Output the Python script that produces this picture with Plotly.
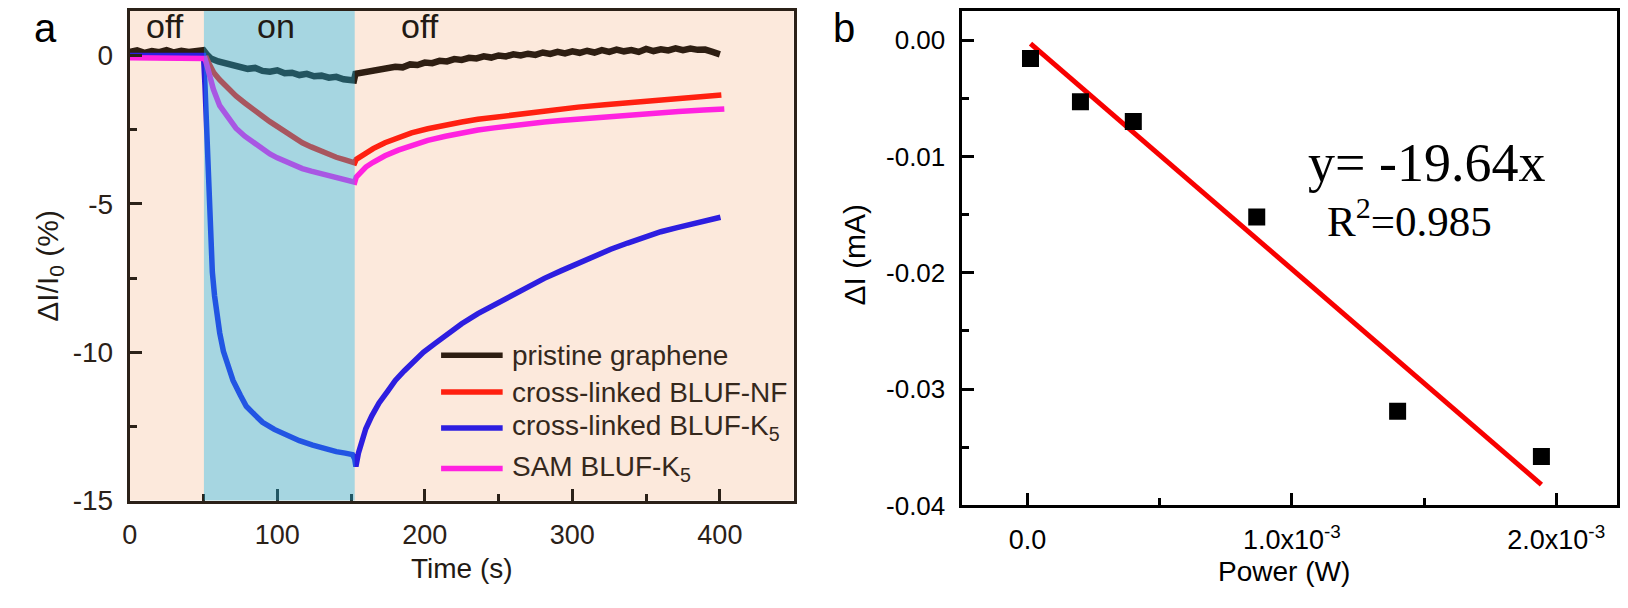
import plotly.graph_objects as go

# ---------------- Panel a data (time in s, dI/I0 in %) ----------------
t_black = [0, 5, 10, 15, 20, 25, 30, 35, 40, 45, 50, 52, 55, 60, 65, 70, 75, 80, 85, 90,
           95, 100, 105, 110, 115, 120, 125, 130, 135, 140, 145, 150, 152, 153, 155, 160,
           165, 170, 175, 180, 185, 190, 195, 200, 205, 210, 215, 220, 225, 230, 235, 240,
           245, 250, 255, 260, 265, 270, 275, 280, 285, 290, 295, 300, 305, 310, 315, 320,
           325, 330, 335, 340, 345, 350, 355, 360, 365, 370, 375, 380, 385, 390, 395, 400]
v_black = [0.12, 0.17, 0.09, 0.15, 0.11, 0.18, 0.10, 0.16, 0.12, 0.17, 0.18, 0.05, -0.10,
           -0.20, -0.27, -0.33, -0.37, -0.45, -0.42, -0.52, -0.55, -0.50, -0.60, -0.58,
           -0.66, -0.62, -0.70, -0.68, -0.75, -0.72, -0.80, -0.82, -0.84, -0.62, -0.60,
           -0.55, -0.52, -0.46, -0.44, -0.38, -0.40, -0.30, -0.32, -0.24, -0.26, -0.18,
           -0.20, -0.12, -0.15, -0.08, -0.10, -0.03, -0.07, 0.00, -0.03, 0.04, 0.00, 0.06,
           0.02, 0.10, 0.05, 0.12, 0.07, 0.14, 0.09, 0.16, 0.10, 0.18, 0.12, 0.20, 0.14,
           0.18, 0.12, 0.22, 0.15, 0.21, 0.17, 0.24, 0.18, 0.23, 0.19, 0.20, 0.12, 0.04]

t_red = [0, 50, 52, 54, 57, 61, 66, 72, 78, 84, 90, 95, 100, 106, 112, 117, 123, 129, 134,
         140, 146, 151, 152.5, 153.5, 156, 160, 165, 173, 182, 191, 202, 214, 225, 236, 247,
         259, 270, 281, 292, 304, 322, 340, 356, 372, 389, 401]
v_red = [-0.05, -0.05, -0.08, -0.30, -0.58, -0.82, -1.08, -1.36, -1.60, -1.85, -2.05, -2.23,
         -2.40, -2.61, -2.79, -2.94, -3.08, -3.21, -3.32, -3.43, -3.52, -3.60, -3.62, -3.50,
         -3.42, -3.27, -3.14, -2.94, -2.77, -2.61, -2.47, -2.34, -2.24, -2.15, -2.08, -1.99,
         -1.92, -1.85, -1.79, -1.74, -1.66, -1.58, -1.51, -1.45, -1.38, -1.33]

t_blue = [0, 50, 51, 52, 53, 54, 55, 56, 57.5, 59, 61, 63.5, 67, 70, 75, 79, 85, 90, 98, 106,
          115, 124, 132, 140, 146, 151, 152.5, 153.3, 155, 157, 160, 164, 169, 175, 180, 186,
          191.5, 199, 207, 216, 225, 236, 247.6, 259, 270, 281, 292.6, 304, 315, 326, 337.5,
          349, 360, 371, 382, 391, 400.4]
v_blue = [0.0, 0.0, -1.0, -2.2, -4.2, -5.6, -6.6, -7.3, -8.1, -8.76, -9.35, -9.97, -10.5,
          -10.95, -11.45, -11.82, -12.12, -12.36, -12.6, -12.8, -12.98, -13.13, -13.25,
          -13.35, -13.40, -13.45, -13.6, -13.85, -13.4, -13.0, -12.58, -12.15, -11.71, -11.30,
          -10.95, -10.63, -10.35, -10.0, -9.70, -9.37, -9.04, -8.70, -8.39, -8.08, -7.79,
          -7.51, -7.25, -7.0, -6.75, -6.53, -6.32, -6.12, -5.94, -5.80, -5.66, -5.55, -5.45]

t_mag = [0, 50, 51, 52, 54, 56.7, 61, 66, 72, 78, 84, 90, 95, 100, 106, 112, 117, 123, 129,
         134, 140, 146, 151, 152.5, 153.5, 156, 160, 165, 173, 182, 191, 202, 214, 225, 236,
         247, 259, 270, 281, 292, 304, 322, 340, 356, 372, 389, 403]
v_mag = [-0.08, -0.08, -0.10, -0.27, -0.70, -1.14, -1.69, -2.05, -2.45, -2.72, -2.94, -3.15,
         -3.32, -3.45, -3.59, -3.71, -3.81, -3.90, -3.98, -4.06, -4.14, -4.20, -4.25, -4.27,
         -4.10, -3.95, -3.76, -3.60, -3.38, -3.19, -3.02, -2.86, -2.72, -2.61, -2.51, -2.44,
         -2.36, -2.30, -2.24, -2.19, -2.14, -2.06, -2.00, -1.94, -1.89, -1.84, -1.80]

series_names = ["pristine graphene", "cross-linked BLUF-NF",
                "cross-linked BLUF-K<sub>5</sub>", "SAM BLUF-K<sub>5</sub>"]
light_on = [50.3, 152.5]
phase_labels = ["off", "on", "off"]
phase_label_t = [24, 99, 197]

a_xticks = [0, 100, 200, 300, 400]
a_xminor = [50, 150, 250, 350]
a_yticks = [0, -5, -10, -15]
a_yticktext = ["0", "-5", "-10", "-15"]
a_yminor = [-2.5, -7.5, -12.5]

# ---------------- Panel b data (power in W, dI in mA) ----------------
power = [0.000011, 0.00020, 0.00040, 0.000867, 0.00140, 0.001944]
delta_i = [-0.00158, -0.0053, -0.0070, -0.0152, -0.0319, -0.0358]
fit_x = [0.000011, 0.001944]
fit_y = [-0.0003, -0.0382]
b_xticks = [0, 0.001, 0.002]
b_xticktext = ["0.0", "1.0x10<sup>-3</sup>", "2.0x10<sup>-3</sup>"]
b_xminor = [0.0005, 0.0015]
b_yticks = [0, -0.01, -0.02, -0.03, -0.04]
b_yticktext = ["0.00", "-0.01", "-0.02", "-0.03", "-0.04"]
b_yminor = [-0.005, -0.015, -0.025, -0.035]

# ---------------- styling ----------------
OFF = 8                      # page body margin
W, H = 1628 - 2 * OFF, 608 - 2 * OFF
def px(x):
    return min(1.0, (x - OFF) / W)
def py(y):
    return min(1.0, 1 - (y - OFF) / H)

SANS = "Liberation Sans, Arial, sans-serif"
SERIF = "Liberation Serif, Times New Roman, serif"
col_black = "#2E1E12"
col_red = "#FF2010"
col_blue = "#2D1EE0"
col_mag = "#FF22E0"
peach = "#FCE9DC"
axcol_a = "#2B2118"
txt_a = "#221A14"
LW = 5.5

fig = go.Figure()
for t, v, c, w in [(t_black, v_black, col_black, 6.5), (t_red, v_red, col_red, LW),
                   (t_blue, v_blue, col_blue, LW), (t_mag, v_mag, col_mag, LW)]:
    fig.add_trace(go.Scatter(x=t, y=v, mode="lines", line=dict(color=c, width=w),
                             xaxis="x", yaxis="y", showlegend=False, hoverinfo="skip"))

fig.add_trace(go.Scatter(x=fit_x, y=fit_y, mode="lines", line=dict(color="#F80000", width=5),
                         xaxis="x2", yaxis="y2", showlegend=False))
fig.add_trace(go.Scatter(x=power, y=delta_i, mode="markers",
                         marker=dict(symbol="square", size=17, color="black"),
                         xaxis="x2", yaxis="y2", showlegend=False))

dom_ax = [px(122.5), px(791)]
dom_ay = [py(514), py(9)]
dom_bx = [px(960), px(1620)]
dom_by = [py(519), py(9)]

def axis_common(color, size):
    return dict(showline=True, mirror=True, linewidth=3, linecolor=color, ticks="inside",
                ticklen=12, tickwidth=2.5, tickcolor=color, showgrid=False, zeroline=False,
                tickfont=dict(family=SANS, size=size, color=color), tickmode="array")

fig.update_layout(
    width=W, height=H, margin=dict(l=0, r=0, t=0, b=0), autosize=False,
    paper_bgcolor="white", plot_bgcolor="white",
    xaxis=dict(domain=dom_ax, range=[0, 450], anchor="y", tickvals=a_xticks,
               ticktext=[str(v) for v in a_xticks], ticklabelstandoff=8,
               minor=dict(tickvals=a_xminor, ticks="inside", ticklen=7, tickwidth=2.5,
                          tickcolor=axcol_a),
               **axis_common(axcol_a, 27)),
    yaxis=dict(domain=dom_ay, range=[-15, 1.5], anchor="x", tickvals=a_yticks,
               ticktext=a_yticktext, ticklabelstandoff=8,
               minor=dict(tickvals=a_yminor, ticks="inside", ticklen=7, tickwidth=2.5,
                          tickcolor=axcol_a),
               **axis_common(axcol_a, 28)),
    xaxis2=dict(domain=dom_bx, range=[-0.00025, 0.00223], anchor="y2", tickvals=b_xticks,
                ticktext=b_xticktext, ticklabelstandoff=8,
                minor=dict(tickvals=b_xminor, ticks="inside", ticklen=7, tickwidth=2.5,
                           tickcolor="black"),
                **axis_common("black", 27)),
    yaxis2=dict(domain=dom_by, range=[-0.04, 0.0025], anchor="x2", tickvals=b_yticks,
                ticktext=b_yticktext, ticklabelstandoff=8,
                minor=dict(tickvals=b_yminor, ticks="inside", ticklen=7, tickwidth=2.5,
                           tickcolor="black"),
                **axis_common("black", 26)),
)

shapes = [
    dict(type="rect", xref="x domain", yref="y domain", x0=0, x1=1, y0=0, y1=1,
         fillcolor=peach, line=dict(width=0), layer="below"),
    dict(type="rect", xref="x", yref="y domain", x0=light_on[0], x1=light_on[1], y0=0, y1=1,
         fillcolor="rgba(16,181,232,0.365)", line=dict(width=0), layer="above"),
]
# legend keys (decoration)
leg_y = [364, 402, 439, 481]
for yy, c in zip(leg_y, [col_black, col_red, col_blue, col_mag]):
    shapes.append(dict(type="line", xref="paper", yref="paper", x0=px(436), x1=px(498),
                       y0=py(yy), y1=py(yy), line=dict(color=c, width=LW)))
fig.update_layout(shapes=shapes)

def note(text, x, y, size, color, family=SANS, angle=0, xanchor="center"):
    return dict(text=text, xref="paper", yref="paper", x=px(x), y=py(y), xanchor=xanchor,
                yanchor="middle", showarrow=False, textangle=angle,
                font=dict(family=family, size=size, color=color))

ann = []
for yy, name in zip(leg_y, series_names):
    ann.append(note(name, 505, yy, 28, "#35281C", xanchor="left"))
for lab, tt in zip(phase_labels, phase_label_t):
    ann.append(dict(text=lab, xref="x", yref="paper", x=tt, y=py(25), xanchor="center",
                    yanchor="middle", showarrow=False,
                    font=dict(family=SANS, size=34, color=txt_a)))
ann += [
    note("a", 38, 27, 40, "black"),
    note("b", 842, 27, 40, "black"),
    note("Time (s)", 457, 584, 28, txt_a),
    note("ΔI/I<sub>0</sub> (%)", 42, 272, 30, txt_a, angle=-90),
    note("Power (W)", 1285, 587, 28, "black"),
    note("ΔI (mA)", 852, 260, 30, "black", angle=-90),
    note("y= -19.64x", 1428, 166, 54, "black", family=SERIF),
    note("R<sup>2</sup>=0.985", 1411, 223, 43, "black", family=SERIF),
]
fig.update_layout(annotations=ann)

fig.write_html("out.html")
